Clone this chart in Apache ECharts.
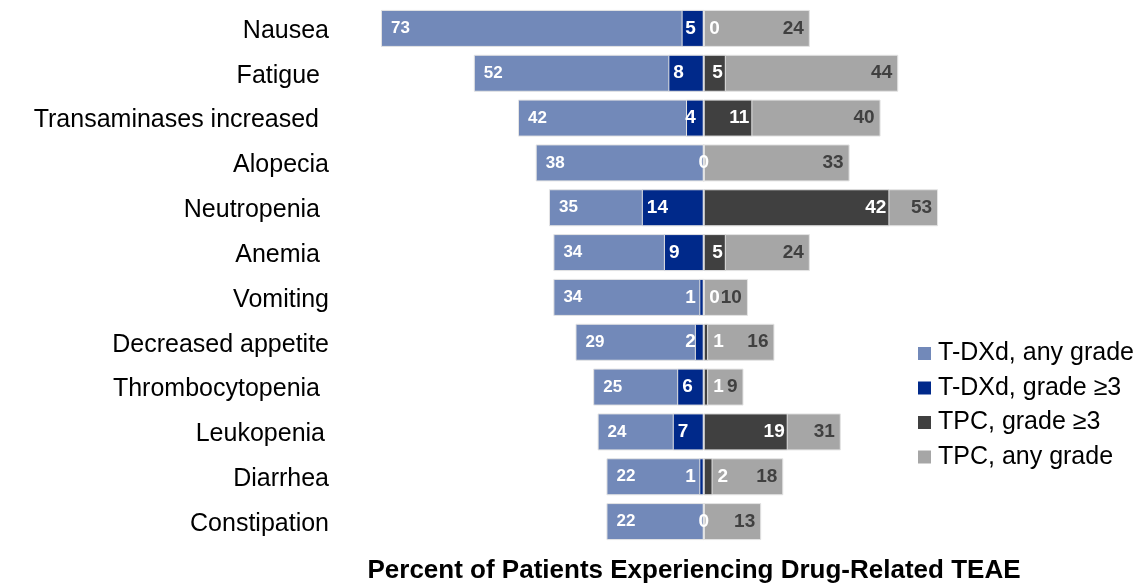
<!DOCTYPE html>
<html><head><meta charset="utf-8">
<script src="https://cdn.jsdelivr.net/npm/echarts@6/dist/echarts.min.js"></script>
<style>html,body{margin:0;padding:0;background:#fff}#c{width:1147px;height:583px}</style>
</head><body><div id="c"></div>
<script>
const categories = ['Nausea','Fatigue','Transaminases increased','Alopecia','Neutropenia','Anemia','Vomiting','Decreased appetite','Thrombocytopenia','Leukopenia','Diarrhea','Constipation'];
const tdxdAny = [73,52,42,38,35,34,34,29,25,24,22,22];
const tdxdG3  = [5,8,4,0,14,9,1,2,6,7,1,0];
const tpcG3   = [0,5,11,0,42,5,0,1,1,19,2,0];
const tpcAny  = [24,44,40,33,53,24,10,16,9,31,18,13];
const seriesNames = ['T-DXd, any grade','T-DXd, grade \u22653','TPC, grade \u22653','TPC, any grade'];
const xTitle = 'Percent of Patients Experiencing Drug-Related TEAE';

const FONT = 'Liberation Sans';
const C_TA = '#7289B9', C_TG = '#00298A', C_PG = '#404040', C_PA = '#A6A6A6';
// extra right padding of some category labels (as in the original layout)
const labelPad = {'Fatigue':9, 'Transaminases increased':10, 'Neutropenia':9, 'Anemia':9, 'Thrombocytopenia':9, 'Leukopenia':4};
const fmt = p => String(Math.abs(p.value));
const barBase = {type:'bar', barWidth:37, barGap:'-100%', itemStyle:{borderColor:'#E4E4E4', borderWidth:1}};
const lab = (size, color) => ({show:true, formatter:fmt, fontFamily:FONT, fontWeight:'bold', fontSize:size, color:color});
const richLab = {};
Object.keys(labelPad).forEach((k, i) => { richLab['p' + i] = {fontFamily:FONT, fontSize:25, color:'#000', padding:[0, labelPad[k], 0, 0]}; });

const chart = echarts.init(document.getElementById('c'), null, {renderer:'canvas'});
chart.setOption({
  animation:false,
  backgroundColor:'#fff',
  grid:{left:350, top:6, width:619, height:538, containLabel:false},
  xAxis:{type:'value', min:-80, max:60, show:false},
  yAxis:{type:'category', inverse:true, data:categories,
    axisLine:{show:false}, axisTick:{show:false}, splitLine:{show:false},
    axisLabel:{fontFamily:FONT, fontSize:25, color:'#000', margin:21, padding:[5,0,0,0],
      formatter: v => { const i = Object.keys(labelPad).indexOf(v); return i >= 0 ? '{p' + i + '|' + v + '}' : v; },
      rich:richLab}},
  legend:{orient:'vertical', left:913, top:336, itemWidth:13, itemHeight:13, itemGap:9.5,
    icon:'rect', data:seriesNames, selectedMode:false,
    itemStyle:{borderWidth:0},
    textStyle:{fontFamily:FONT, fontSize:25, color:'#000', lineHeight:25, padding:[0,0,0,2]}},
  graphic:[{type:'text', x:694, y:571,
    style:{text:xTitle, font:'bold 26px "Liberation Sans"', fill:'#000', textAlign:'center', textVerticalAlign:'middle'}}],
  series:[
    Object.assign({}, barBase, {name:seriesNames[0], z:2, itemStyle:Object.assign({}, barBase.itemStyle, {color:C_TA}),
      label:Object.assign(lab(17,'#fff'), {position:'insideLeft', distance:10}),
      data:tdxdAny.map(v => -v)}),
    Object.assign({}, barBase, {name:seriesNames[3], z:2, itemStyle:Object.assign({}, barBase.itemStyle, {color:C_PA}),
      label:Object.assign(lab(19,C_PG), {position:'insideRight', distance:6}),
      data:tpcAny.slice()}),
    Object.assign({}, barBase, {name:seriesNames[1], z:3, itemStyle:Object.assign({}, barBase.itemStyle, {color:C_TG}),
      label:lab(19,'#fff'),
      data:tdxdG3.map((v,i) => ({value:-v,
        label: v >= 6 ? {position:'insideLeft', distance:5}
             : (v === 0 && tpcG3[i] === 0 ? {show:false} : {position:'insideRight', distance:8})}))}),
    Object.assign({}, barBase, {name:seriesNames[2], z:3, itemStyle:Object.assign({}, barBase.itemStyle, {color:C_PG}),
      label:lab(19,'#fff'),
      data:tpcG3.map((v,i) => ({value:v,
        label: v >= 3 ? {position:'insideRight', distance:3}
             : (v === 0 && tdxdG3[i] === 0 ? {position:'inside'} : {position:'right', distance:5})}))})
  ]
});
</script></body></html>
